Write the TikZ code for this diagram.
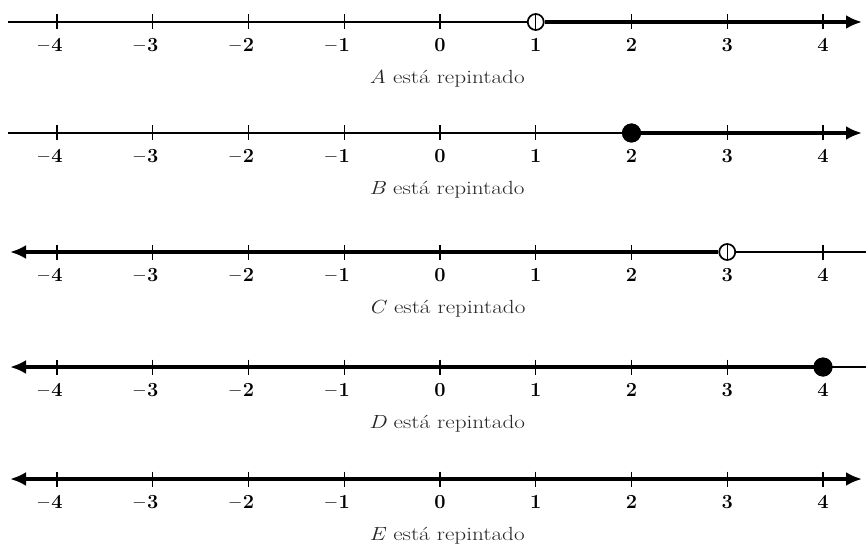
\documentclass[tikz,border=0pt]{standalone}
\usepackage{fontspec}
\usetikzlibrary{arrows.meta}
\begin{document}
\begin{tikzpicture}[x=1pt,y=-1pt,
  thinline/.style={line width=1.3pt},
  thickline/.style={line width=3.8pt},
  tipR/.style={-{Latex[length=16pt,width=14pt]}},
  tipL/.style={{Latex[length=16pt,width=14pt]}-},
  tipLR/.style={{Latex[length=16pt,width=14pt]}-{Latex[length=16pt,width=14pt]}},
  tickmark/.style={line width=1.3pt},
  opendot/.style={circle,draw,line width=1.7pt,fill=white,minimum size=16pt,inner sep=0pt},
  fulldot/.style={circle,fill=black,minimum size=19pt,inner sep=0pt},
  num/.style={font=\fontsize{20}{22}\selectfont\bfseries,inner sep=0pt},
  caption/.style={font=\fontsize{19}{21}\selectfont,text=black!85,inner sep=0pt,xscale=1.22,transform shape}]
\useasboundingbox (0,0) rectangle (866,548);
% row 1
\coordinate (a1) at (8,22); \coordinate (b1) at (862,22);
\node[opendot] (p1) at (535.75,22) {};
\draw[thinline] (a1) -- (p1.west);
\draw[thickline,tipR] (p1.east) -- (b1);
% row 2
\coordinate (a2) at (8,133); \coordinate (b2) at (862,133);
\draw[thinline] (a2) -- (631.5,133);
\node[fulldot] (p2) at (631.5,133) {};
\draw[thickline,tipR] (p2.center) -- (b2);
\node[fulldot] at (p2) {};
% row 3
\coordinate (a3) at (10,252); \coordinate (b3) at (866,252);
\node[opendot] (p3) at (727.25,252) {};
\draw[thickline,tipL] (a3) -- (p3.west);
\draw[thinline] (p3.east) -- (b3);
% row 4
\coordinate (a4) at (10,367); \coordinate (b4) at (866,367);
\node[fulldot] (p4) at (823,367) {};
\draw[thickline,tipL] (a4) -- (p4.center);
\draw[thinline] (p4.center) -- (b4);
\node[fulldot] at (p4) {};
% row 5
\coordinate (a5) at (10,479); \coordinate (b5) at (862,479);
\draw[thickline,tipLR] (a5) -- (b5);
% ticks, numbers, captions
\foreach \row/\yy/\lt in {1/22/A,2/133/B,3/252/C,4/367/D,5/479/E} {
  \foreach \n [count=\i] in {-4,...,4} {
    \draw[tickmark] (440+95.75*\n,\yy-7.5) -- (440+95.75*\n,\yy+7.5);
    \node[num] (n\row-\i) at (440+95.75*\n,\yy+23)
      {\ifnum\n<0 \llap{--\hspace{2pt}}\the\numexpr-\n\relax\else\n\fi};
  }
  \node[caption] (cap\row) at (447,\yy+57) {\textit{\lt} está repintado};
}
\end{tikzpicture}
\end{document}
